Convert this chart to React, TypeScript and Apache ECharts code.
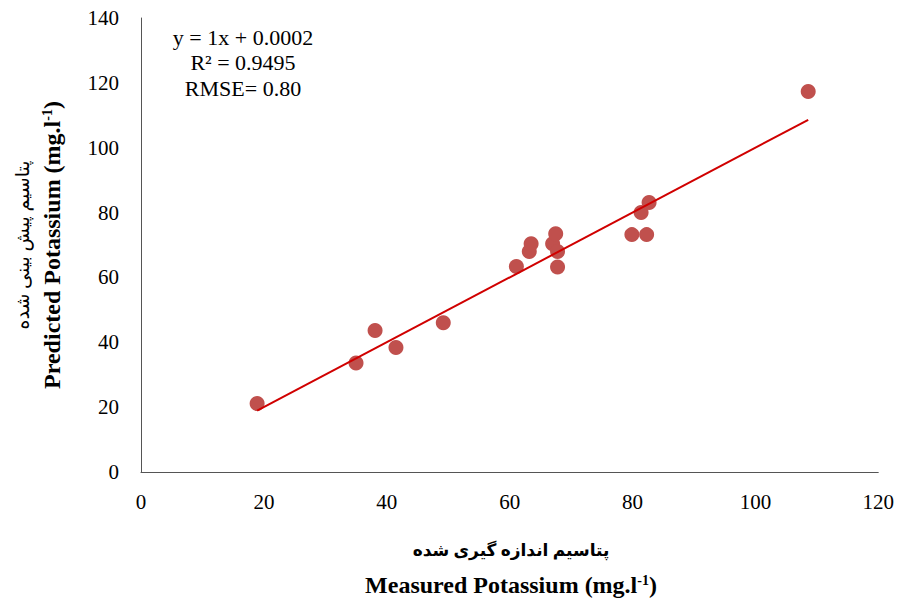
import React, { useEffect, useRef } from "react";
import * as echarts from "echarts";

const measured = [18.9, 35.0, 38.1, 41.5, 49.2, 61.1, 63.2, 63.5, 67.0, 67.5, 67.8, 67.8, 79.9, 82.3, 81.4, 82.7, 108.6];
const predicted = [21.1, 33.6, 43.6, 38.4, 46.0, 63.4, 68.0, 70.4, 70.4, 73.5, 68.0, 63.2, 73.2, 73.2, 80.0, 83.1, 117.3];
const slope = 1;
const intercept = 0.0002;
const annotations = ["y = 1x + 0.0002", "R² = 0.9495", "RMSE= 0.80"];
const yTitleFa = "پتاسیم پیش بینی شده";
const yTitleEn = "Predicted Potassium (mg.l";
const xTitleFa = "پتاسیم اندازه گیری شده";
const xTitleEn = "Measured Potassium (mg.l";

const FONT = "'Liberation Serif', 'DejaVu Serif', 'DejaVu Sans', serif";

export default function App() {
  const ref = useRef<HTMLDivElement>(null);
  useEffect(() => {
    if (!ref.current) return;
    const chart = echarts.init(ref.current, undefined, { renderer: "svg" });
    const points = measured.map((x, i) => [x, predicted[i]]);
    const xMin = Math.min(...measured);
    const xMax = Math.max(...measured);
    const trend = [
      [xMin, slope * xMin + intercept],
      [xMax, slope * xMax + intercept],
    ];
    const rich = {
      b: { fontFamily: FONT, fontSize: 24, fontWeight: "bold" as const, color: "#000" },
      sup: { fontFamily: FONT, fontSize: 14, fontWeight: "bold" as const, color: "#000", verticalAlign: "top" as const, padding: [0, 0, 8, 0] },
    };
    chart.setOption({
      animation: false,
      backgroundColor: "#fff",
      grid: { left: 141, right: 16, top: 18, bottom: 131, containLabel: false },
      xAxis: {
        type: "value",
        min: 0,
        max: 120,
        interval: 20,
        splitLine: { show: false },
        axisTick: { show: false },
        axisLine: { show: true, lineStyle: { color: "#555", width: 1 } },
        axisLabel: { fontFamily: FONT, fontSize: 21, color: "#000", margin: 19 },
      },
      yAxis: {
        type: "value",
        min: 0,
        max: 140,
        interval: 20,
        splitLine: { show: false },
        axisTick: { show: false },
        axisLine: { show: true, lineStyle: { color: "#555", width: 1 } },
        axisLabel: { fontFamily: FONT, fontSize: 21, color: "#000", margin: 22 },
      },
      series: [
        {
          type: "scatter",
          data: points,
          symbolSize: 15,
          itemStyle: { color: "#C0504D", opacity: 1 },
          z: 2,
        },
        {
          type: "line",
          data: trend,
          symbol: "none",
          lineStyle: { color: "#D00000", width: 2 },
          z: 3,
        },
      ],
      graphic: [
        ...annotations.map((t, i) => ({
          type: "text",
          x: 243,
          y: 37 + i * 25.5,
          style: {
            text: t,
            fontFamily: FONT,
            fontSize: 22,
            fill: "#000",
            align: "center",
            verticalAlign: "middle",
          },
        })),
        {
          type: "text",
          x: 22,
          y: 245,
          rotation: Math.PI / 2,
          style: {
            text: yTitleFa,
            fontFamily: FONT,
            fontSize: 19,
            fill: "#000",
            align: "center",
            verticalAlign: "middle",
          },
        },
        {
          type: "text",
          x: 52,
          y: 245,
          rotation: Math.PI / 2,
          style: {
            text: `{b|${yTitleEn}}{sup|-1}{b|)}`,
            rich,
            align: "center",
            verticalAlign: "middle",
          },
        },
        {
          type: "text",
          x: 511,
          y: 550,
          style: {
            text: xTitleFa,
            fontFamily: FONT,
            fontSize: 17,
            fontWeight: "bold",
            fill: "#000",
            align: "center",
            verticalAlign: "middle",
          },
        },
        {
          type: "text",
          x: 511,
          y: 585,
          style: {
            text: `{b|${xTitleEn}}{sup|-1}{b|)}`,
            rich,
            align: "center",
            verticalAlign: "middle",
          },
        },
      ],
    });
    return () => chart.dispose();
  }, []);
  return <div ref={ref} style={{ position: "fixed", left: 0, top: 0, width: 897, height: 603 }} />;
}
